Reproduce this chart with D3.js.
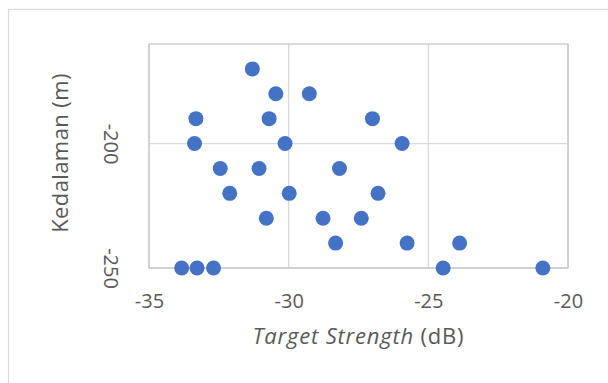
<!DOCTYPE html>
<html>
<head>
<meta charset="utf-8">
<script src="https://cdn.jsdelivr.net/npm/d3@7"></script>
<style>
  html, body { margin: 0; padding: 0; background: #fff; }
  svg { display: block; }
  text { font-family: "Open Sans", "Noto Sans", sans-serif; fill: #595959; }
</style>
</head>
<body>
<script>
// Data: Target Strength (dB) vs Kedalaman (m)
const targetStrength = [
  -31.3,
  -30.46, -29.26,
  -33.32, -30.7, -27.0,
  -33.37, -30.13, -25.94,
  -32.45, -31.06, -28.18,
  -32.11, -29.98, -26.8,
  -30.8, -28.77, -27.4,
  -28.32, -25.76, -23.88,
  -33.83, -33.28, -32.69, -24.47, -20.9
];
const kedalaman = [
  -170,
  -180, -180,
  -190, -190, -190,
  -200, -200, -200,
  -210, -210, -210,
  -220, -220, -220,
  -230, -230, -230,
  -240, -240, -240,
  -250, -250, -250, -250, -250
];
const xTicks = [-35, -30, -25, -20];
const yTicks = [-250, -200];
const xDomain = [-35, -20];
const yDomain = [-250, -160];

const W = 608, H = 383;
const m = { left: 149, right: 608 - 568, top: 44, bottom: 383 - 268 };

const svg = d3.select("body").append("svg").attr("width", W).attr("height", H);

// Outer chart border
svg.append("rect")
  .attr("x", 8.5).attr("y", 9.5)
  .attr("width", W + 10).attr("height", H + 10)
  .attr("fill", "#fff").attr("stroke", "#D9D9D9").attr("stroke-width", 1.2);

const x = d3.scaleLinear().domain(xDomain).range([m.left, W - m.right]);
const y = d3.scaleLinear().domain(yDomain).range([H - m.bottom, m.top]);

const g = svg.append("g");

// Gridlines
g.selectAll("line.vg").data(xTicks).join("line")
  .attr("class", "vg")
  .attr("x1", d => x(d)).attr("x2", d => x(d))
  .attr("y1", y(yDomain[0])).attr("y2", y(yDomain[1]))
  .attr("stroke", "#D9D9D9").attr("stroke-width", 1.3);
g.selectAll("line.hg").data(yTicks).join("line")
  .attr("class", "hg")
  .attr("x1", x(xDomain[0])).attr("x2", x(xDomain[1]))
  .attr("y1", d => y(d)).attr("y2", d => y(d))
  .attr("stroke", "#D9D9D9").attr("stroke-width", 1.3);

// Plot area border
g.append("rect")
  .attr("x", x(xDomain[0])).attr("y", y(yDomain[1]))
  .attr("width", x(xDomain[1]) - x(xDomain[0]))
  .attr("height", y(yDomain[0]) - y(yDomain[1]))
  .attr("fill", "none").attr("stroke", "#C8C8C8").attr("stroke-width", 1.3);

const fmt = d => String(d);

// Axes (labels only) via d3 axes
const xAxis = d3.axisBottom(x).tickValues(xTicks).tickSize(0).tickPadding(0).tickFormat(fmt);
const xg = svg.append("g").attr("transform", `translate(0, ${y(yDomain[0])})`).call(xAxis);
xg.select(".domain").remove();
xg.selectAll("text")
  .attr("y", 40).attr("dy", null)
  .style("font-size", "20px").style("font-family", '"Open Sans", sans-serif').attr("fill", "#595959");

const yAxis = d3.axisLeft(y).tickValues(yTicks).tickSize(0).tickPadding(0).tickFormat(fmt);
const yg = svg.append("g").attr("transform", `translate(${x(xDomain[0])}, 0)`).call(yAxis);
yg.select(".domain").remove();
yg.selectAll("text")
  .attr("x", null).attr("dy", null)
  .attr("text-anchor", "middle")
  .attr("dominant-baseline", "central")
  .attr("transform", "translate(-38,0) rotate(90)")
  .style("font-size", "20px").style("font-family", '"Open Sans", sans-serif').attr("fill", "#595959");

// Points
svg.append("g").selectAll("circle")
  .data(targetStrength.map((v, i) => [v, kedalaman[i]]))
  .join("circle")
  .attr("cx", d => x(d[0])).attr("cy", d => y(d[1]))
  .attr("r", 7.5)
  .attr("fill", "#4472C4");

// Axis titles
const xt = svg.append("text")
  .attr("x", (x(xDomain[0]) + x(xDomain[1])) / 2)
  .attr("y", 344)
  .attr("text-anchor", "middle")
  .style("font-size", "22px")
  .style("letter-spacing", "0.8px");
xt.append("tspan").attr("font-style", "italic").text("Target Strength");
xt.append("tspan").text(" (dB)");

svg.append("text")
  .attr("transform", `translate(68, 153) rotate(-90)`)
  .attr("text-anchor", "middle")
  .style("font-size", "22px")
  .style("letter-spacing", "0.4px")
  .text("Kedalaman (m)");
</script>
</body>
</html>
